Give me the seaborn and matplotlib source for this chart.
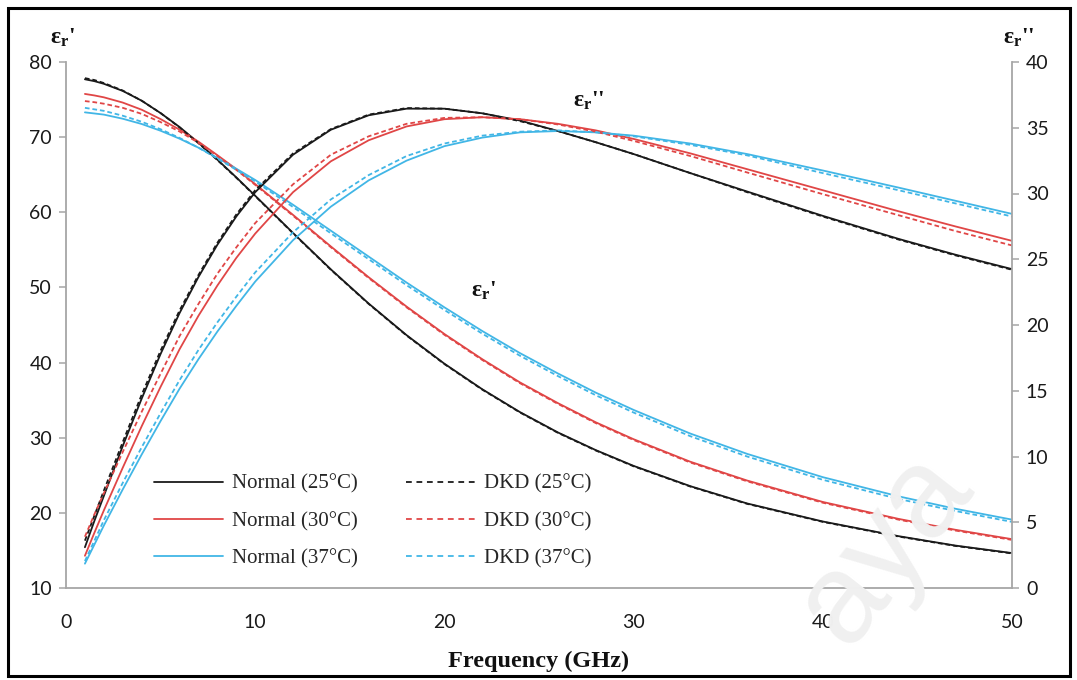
import numpy as np
import pandas as pd
import matplotlib
matplotlib.use("Agg")
import matplotlib.pyplot as plt
import seaborn as sns
from matplotlib.lines import Line2D
from matplotlib.patches import Rectangle

# ---------------- data ----------------
freq = [1, 1.5, 2, 3, 4, 5, 6, 7, 8, 9, 10, 12, 14, 16, 18, 20, 22, 24, 26, 28,
        30, 33, 36, 40, 44, 47, 50]

# real part eps_r' (left axis)
n25_re = [77.7, 77.45, 77.1, 76.15, 74.85, 73.2, 71.35, 69.25, 67.0, 64.65, 62.2, 57.25,
          52.4, 47.85, 43.65, 39.85, 36.45, 33.4, 30.7, 28.35, 26.25, 23.55, 21.25, 18.85,
          16.9, 15.65, 14.65]
d25_re = [77.85, 77.6, 77.2, 76.2, 74.85, 73.2, 71.3, 69.2, 66.95, 64.6, 62.15, 57.2,
          52.35, 47.8, 43.6, 39.8, 36.4, 33.35, 30.65, 28.3, 26.2, 23.5, 21.2, 18.8,
          16.85, 15.6, 14.6]
n30_re = [75.75, 75.55, 75.3, 74.6, 73.65, 72.4, 71.0, 69.4, 67.6, 65.75, 63.75, 59.65,
          55.45, 51.35, 47.45, 43.8, 40.45, 37.35, 34.6, 32.05, 29.8, 26.8, 24.3, 21.45,
          19.2, 17.75, 16.5]
d30_re = [74.8, 74.65, 74.45, 73.9, 73.1, 72.0, 70.75, 69.25, 67.5, 65.65, 63.65, 59.55,
          55.35, 51.25, 47.35, 43.7, 40.35, 37.25, 34.5, 31.95, 29.7, 26.7, 24.2, 21.35,
          19.1, 17.65, 16.4]
n37_re = [73.3, 73.15, 73.0, 72.45, 71.75, 70.85, 69.8, 68.6, 67.25, 65.8, 64.3, 61.0,
          57.55, 54.1, 50.65, 47.35, 44.2, 41.25, 38.55, 36.0, 33.7, 30.55, 27.85, 24.75,
          22.2, 20.55, 19.1]
d37_re = [73.9, 73.7, 73.5, 72.85, 72.05, 71.05, 69.9, 68.6, 67.15, 65.65, 64.1, 60.7,
          57.2, 53.75, 50.3, 47.0, 43.85, 40.9, 38.2, 35.65, 33.35, 30.2, 27.5, 24.4,
          21.85, 20.25, 18.8]

# imaginary part eps_r'' (right axis)
n25_im = [3.1, 5.1, 7.0, 10.8, 14.4, 17.8, 20.9, 23.65, 26.1, 28.25, 30.1, 32.95, 34.85,
          35.95, 36.45, 36.45, 36.1, 35.55, 34.75, 33.9, 33.0, 31.55, 30.15, 28.3, 26.55,
          25.35, 24.25]
d25_im = [3.6, 5.5, 7.4, 11.1, 14.7, 18.05, 21.1, 23.8, 26.25, 28.4, 30.25, 33.05, 34.9,
          36.0, 36.5, 36.45, 36.1, 35.5, 34.75, 33.9, 33.0, 31.55, 30.1, 28.25, 26.5,
          25.3, 24.2]
n30_im = [2.45, 4.2, 5.9, 9.15, 12.3, 15.3, 18.15, 20.7, 23.0, 25.1, 26.95, 30.1, 32.45,
          34.05, 35.1, 35.65, 35.8, 35.65, 35.3, 34.8, 34.15, 33.05, 31.85, 30.25, 28.65,
          27.5, 26.4]
d30_im = [3.9, 5.6, 7.2, 10.35, 13.4, 16.3, 19.15, 21.6, 23.9, 25.9, 27.75, 30.7, 32.95,
          34.35, 35.3, 35.75, 35.8, 35.65, 35.25, 34.7, 34.0, 32.85, 31.6, 29.95, 28.35,
          27.15, 26.05]
n37_im = [1.85, 3.3, 4.75, 7.5, 10.15, 12.7, 15.15, 17.4, 19.5, 21.45, 23.3, 26.45, 29.0,
          31.0, 32.5, 33.6, 34.25, 34.65, 34.75, 34.65, 34.4, 33.8, 33.0, 31.75, 30.45,
          29.45, 28.45]
d37_im = [2.05, 3.6, 5.15, 8.0, 10.7, 13.3, 15.8, 18.1, 20.2, 22.15, 24.0, 27.05, 29.55,
          31.4, 32.85, 33.8, 34.4, 34.7, 34.8, 34.65, 34.35, 33.7, 32.9, 31.55, 30.25,
          29.25, 28.25]

series_labels = ["Normal (25°C)", "Normal (30°C)", "Normal (37°C)",
                 "DKD (25°C)", "DKD (30°C)", "DKD (37°C)"]
temps = ["25", "30", "37"]
groups = ["Normal", "DKD"]

left_ticks = [10, 20, 30, 40, 50, 60, 70, 80]
right_ticks = [0, 5, 10, 15, 20, 25, 30, 35, 40]
x_ticks = [0, 10, 20, 30, 40, 50]

# ---------------- build long tables ----------------
re_map = {("Normal", "25"): n25_re, ("DKD", "25"): d25_re,
          ("Normal", "30"): n30_re, ("DKD", "30"): d30_re,
          ("Normal", "37"): n37_re, ("DKD", "37"): d37_re}
im_map = {("Normal", "25"): n25_im, ("DKD", "25"): d25_im,
          ("Normal", "30"): n30_im, ("DKD", "30"): d30_im,
          ("Normal", "37"): n37_im, ("DKD", "37"): d37_im}

def long_df(m):
    rows = []
    for (g, t), vals in m.items():
        for f, v in zip(freq, vals):
            rows.append({"freq": f, "value": v, "temp": t, "group": g})
    return pd.DataFrame(rows)

df_re = long_df(re_map)
df_im = long_df(im_map)

colors = {"25": "#1a1a1a", "30": "#E04646", "37": "#41B6E6"}
dash_pat = (2.6, 1.6)

# ---------------- style ----------------
sns.set_theme(style="white")
plt.rcParams['font.family'] = ['Lato', 'DejaVu Sans']
plt.rcParams['mathtext.fontset'] = 'custom'
plt.rcParams['mathtext.rm'] = 'Liberation Serif'
plt.rcParams['mathtext.bf'] = 'Liberation Serif:bold'
plt.rcParams['mathtext.it'] = 'Liberation Serif:italic'

fig = plt.figure(figsize=(10.77, 6.8), dpi=100)
ax = fig.add_axes([66 / 1077, 1 - 588 / 680, (1012 - 66) / 1077, (588 - 62) / 680])
ax2 = ax.twinx()

# faint watermark
fig.text(885 / 1077, 1 - 548 / 680, "aya", fontsize=92, color="#f0f0f0", rotation=52,
         ha="center", va="center", family="Liberation Sans", zorder=0)

for g in groups:
    for t in temps:
        ls = "-" if g == "Normal" else (0, dash_pat)
        sub = df_re[(df_re.group == g) & (df_re.temp == t)]
        sns.lineplot(data=sub, x="freq", y="value", ax=ax, color=colors[t],
                     lw=1.3, estimator=None, sort=False, legend=False, linestyle=ls)
        sub = df_im[(df_im.group == g) & (df_im.temp == t)]
        sns.lineplot(data=sub, x="freq", y="value", ax=ax2, color=colors[t],
                     lw=1.3, estimator=None, sort=False, legend=False, linestyle=ls)

ax.set_xlim(0, 50)
ax.set_ylim(10, 80)
ax2.set_ylim(0, 40)
ax.set_xticks(x_ticks)
ax.set_yticks(left_ticks)
ax2.set_yticks(right_ticks)
ax.set_ylabel("")
ax2.set_ylabel("")
ax.set_xlabel("Frequency (GHz)", family="Liberation Serif", fontweight="bold",
              fontsize=17.5, labelpad=14, color="#111111")

spine_c = "#a6a6a6"
for a in (ax, ax2):
    a.patch.set_visible(False)
    a.spines["top"].set_visible(False)
    for s in ("left", "right", "bottom"):
        a.spines[s].set_color(spine_c)
        a.spines[s].set_linewidth(1.3)
    a.tick_params(axis="both", which="major", direction="out", length=5,
                  width=1.1, color=spine_c, labelsize=14, labelcolor="#1a1a1a", pad=5)
ax.spines["right"].set_visible(False)
ax2.spines["left"].set_visible(False)
ax2.spines["bottom"].set_visible(False)
ax.tick_params(axis="y", pad=5)
ax2.tick_params(axis="y", pad=5)
ax.tick_params(axis="x", pad=14)

# axis titles (epsilon labels)
fig.text(50 / 1077, 1 - 38 / 680, r"$\mathbf{ε_r}$'", fontsize=17, fontweight="bold",
         ha="left", va="center", color="#111111", family="Liberation Serif")
fig.text(1003 / 1077, 1 - 38 / 680, r"$\mathbf{ε_r}$''", fontsize=17, fontweight="bold",
         ha="left", va="center", color="#111111", family="Liberation Serif")
ax.text(26.8, 74.8, r"$\mathbf{ε_r}$''", fontsize=17, fontweight="bold",
        ha="left", va="center", color="#111111", family="Liberation Serif")
ax.text(21.4, 49.6, r"$\mathbf{ε_r}$'", fontsize=17, fontweight="bold",
        ha="left", va="center", color="#111111", family="Liberation Serif")

# legend
handles = []
for g in groups:
    for t in temps:
        handles.append(Line2D([], [], color=colors[t], lw=1.3,
                              linestyle="-" if g == "Normal" else (0, (3.2, 2.6))))
leg = ax.legend(handles, series_labels, ncol=2, loc="upper left",
                bbox_to_anchor=(0.093, 0.216), frameon=False,
                prop={"family": "Liberation Serif", "size": 15},
                handlelength=3.3, handletextpad=0.45, columnspacing=2.3,
                labelspacing=0.85, borderpad=0, borderaxespad=0)

# outer frame
fig.patches.append(Rectangle((8 / 1077, 4 / 680), 1062 / 1077, 668 / 680,
                             transform=fig.transFigure, fill=False,
                             edgecolor="black", lw=2.2, zorder=10))

fig.savefig("out.png", dpi=100)
